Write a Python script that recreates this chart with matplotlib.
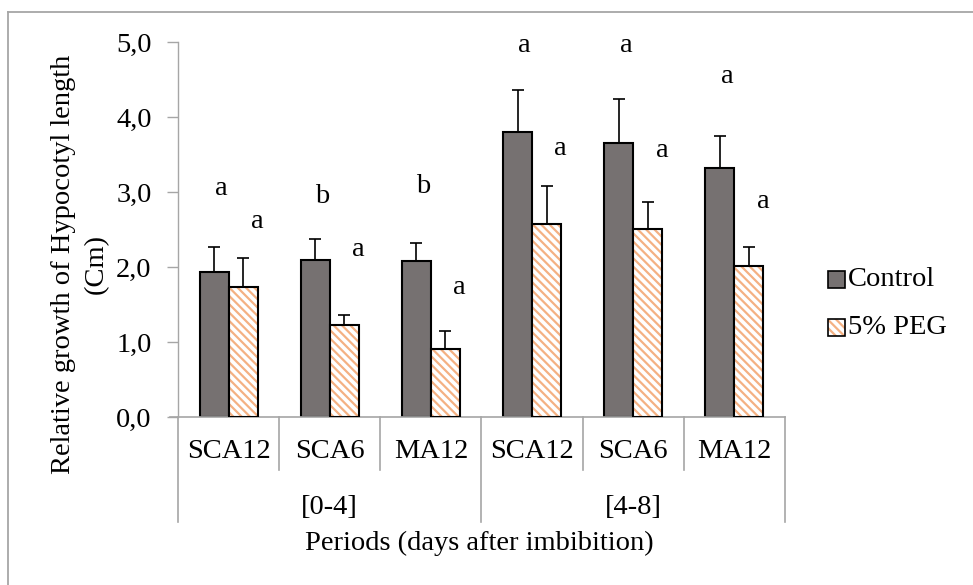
import matplotlib
matplotlib.use("Agg")
import matplotlib.pyplot as plt
import matplotlib.transforms as mtransforms
from matplotlib.patches import Rectangle
from matplotlib.lines import Line2D
import numpy as np

plt.rcParams['font.family'] = ['Liberation Serif', 'DejaVu Serif']
plt.rcParams['hatch.linewidth'] = 1.6

# ---- data ----
categories = ["SCA12", "SCA6", "MA12", "SCA12", "SCA6", "MA12"]
groups = ["[0-4]", "[4-8]"]
series_names = ["Control", "5% PEG"]
control = [1.93, 2.09, 2.08, 3.80, 3.65, 3.32]
control_err = [0.34, 0.28, 0.24, 0.56, 0.59, 0.43]
peg = [1.73, 1.23, 0.91, 2.57, 2.51, 2.02]
peg_err = [0.39, 0.13, 0.24, 0.51, 0.36, 0.25]
control_letters = ["a", "b", "b", "a", "a", "a"]
control_letter_y = [2.96, 2.85, 2.99, 4.87, 4.87, 4.45]
peg_letters = ["a", "a", "a", "a", "a", "a"]
peg_letter_y = [2.52, 2.15, 1.64, 3.49, 3.47, 2.79]
yticks = [0, 1, 2, 3, 4, 5]
ytick_labels = ["0,0", "1,0", "2,0", "3,0", "4,0", "5,0"]

W, H = 973, 585
fig = plt.figure(figsize=(W / 100, H / 100), dpi=100)

def fx(px):
    return px / W

def fy(py):
    return 1 - py / H

# outer border (left and top only visible)
fig.add_artist(Line2D([fx(7.5), fx(7.5)], [fy(12), fy(600)], color="#a6a6a6", lw=1.3,
                      transform=fig.transFigure))
fig.add_artist(Line2D([fx(7.5), fx(1000)], [fy(12), fy(12)], color="#a6a6a6", lw=1.3,
                      transform=fig.transFigure))

left, right, top, bottom = 178, 785, 42, 417
ax = fig.add_axes([fx(left), fy(bottom), fx(right - left), (bottom - top) / H])

x = np.arange(len(categories))
bw = 0.287
ctrl_color = "#767171"
peg_hatch_color = "#f4b183"
hatch = "\\\\\\\\"

ax.bar(x - bw / 2, control, width=bw, color=ctrl_color, edgecolor="black", linewidth=1.5, zorder=2)
# hatched bars: hatch drawn in orange, outline in black
ax.bar(x + bw / 2, peg, width=bw, color="white", edgecolor=peg_hatch_color, linewidth=0,
       hatch=hatch, zorder=2)
ax.bar(x + bw / 2, peg, width=bw, fill=False, edgecolor="black", linewidth=1.5, zorder=3)

ax.errorbar(x - bw / 2, control, yerr=[np.zeros(len(control)), control_err], fmt="none",
            ecolor="black", elinewidth=1.2, capsize=4.3, capthick=1.2, zorder=1)
ax.errorbar(x + bw / 2, peg, yerr=[np.zeros(len(peg)), peg_err], fmt="none",
            ecolor="black", elinewidth=1.2, capsize=4.3, capthick=1.2, zorder=1)

fs = 20.5
for i in range(len(categories)):
    ax.text(x[i] - bw / 2 + 0.07, control_letter_y[i], control_letters[i], ha="center",
            va="baseline", fontsize=fs, clip_on=False)
    ax.text(x[i] + bw / 2 + 0.14, peg_letter_y[i], peg_letters[i], ha="center",
            va="baseline", fontsize=fs, clip_on=False)

ax.set_xlim(-0.5, len(categories) - 0.5)
ax.set_ylim(0, 5)
ax.set_yticks(yticks)
ax.set_yticklabels(ytick_labels, fontsize=fs)
ax.tick_params(axis="y", length=8, width=1, color="#a6a6a6", pad=11)
ax.set_xticks([])
for s in ["top", "right", "bottom"]:
    ax.spines[s].set_visible(False)
ax.spines["left"].set_color("#a6a6a6")
ax.spines["left"].set_linewidth(1)
ax.patch.set_visible(False)

# multi-level category axis
trans = mtransforms.blended_transform_factory(ax.transData, ax.transAxes)
axh = bottom - top
def ay(py):
    return -(py - bottom) / axh

gray = "#a6a6a6"
ax.add_line(Line2D([-0.5 - 8 / 101, len(categories) - 0.5], [0, 0], transform=trans,
                   color=gray, lw=1.2, clip_on=False))
n_per_group = len(categories) // len(groups)
for k in range(len(categories) + 1):
    xs = k - 0.5
    long = (k % n_per_group == 0)
    ax.add_line(Line2D([xs, xs], [0, ay(522 if long else 470)], transform=trans,
                       color=gray, lw=1.2, clip_on=False))
for i, c in enumerate(categories):
    ax.text(x[i], ay(452), c, transform=trans, ha="center", va="center", fontsize=fs)
for g, name in enumerate(groups):
    xc = g * n_per_group + (n_per_group - 1) / 2
    ax.text(xc, ay(507), name, transform=trans, ha="center", va="center", fontsize=fs)

fig.text(fx(479), fy(543), "Periods (days after imbibition)", ha="center", va="center", fontsize=fs)
fig.text(fx(80), fy(264), "Relative growth of Hypocotyl length\n(Cm)", rotation=90,
         ha="center", va="center", multialignment="center", fontsize=fs, linespacing=1.45)

# legend (drawn manually so the hatched swatch matches the bars)
sq = 17
leg_rows = [279, 327]
for row_y, name, kind in zip(leg_rows, series_names, ["ctrl", "peg"]):
    x0, y0 = fx(828), fy(row_y + sq / 2)
    w, h = sq / W, sq / H
    if kind == "ctrl":
        fig.add_artist(Rectangle((x0, y0), w, h, transform=fig.transFigure,
                                 facecolor=ctrl_color, edgecolor="black", lw=1.2))
    else:
        fig.add_artist(Rectangle((x0, y0), w, h, transform=fig.transFigure,
                                 facecolor="white", edgecolor=peg_hatch_color, lw=0, hatch=hatch))
        fig.add_artist(Rectangle((x0, y0), w, h, transform=fig.transFigure,
                                 fill=False, edgecolor="black", lw=1.2))
    fig.text(fx(848), fy(row_y), name, ha="left", va="center", fontsize=fs)

fig.savefig("out.png", dpi=100)
